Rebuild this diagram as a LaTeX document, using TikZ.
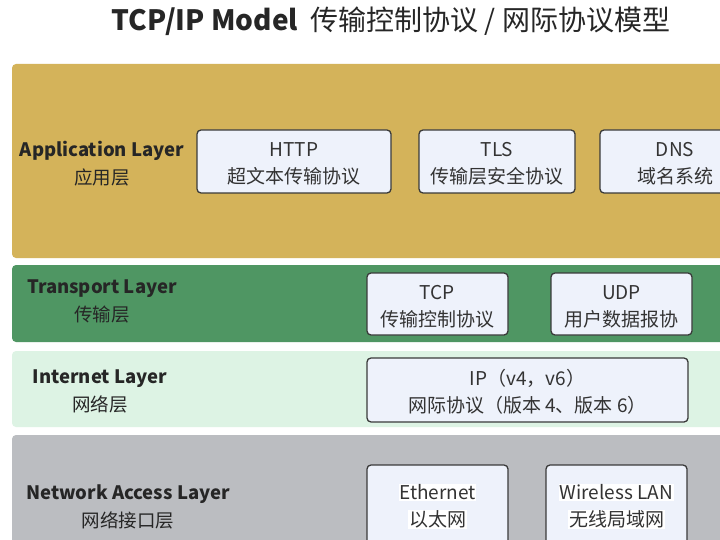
\documentclass[tikz,border=0pt]{standalone}
\usepackage{fontspec}
\setmainfont{Noto Sans CJK SC}
\definecolor{appcol}{HTML}{D4B35A}
\definecolor{tracol}{HTML}{4F9663}
\definecolor{intcol}{HTML}{DDF3E4}
\definecolor{netcol}{HTML}{BBBDC1}
\definecolor{boxfill}{HTML}{EEF2FB}
\definecolor{boxline}{HTML}{3A3A3A}
\definecolor{txtcol}{HTML}{333333}
\newcommand\whl[1]{{\setlength\fboxsep{0.6pt}\colorbox{white}{#1}}}
\tikzset{
  band/.style={rounded corners=4pt},
  protobox/.style={draw=boxline, fill=boxfill, line width=1.3pt, rounded corners=4pt,
    inner sep=0pt},
  prototext/.style={inner sep=0pt, align=center, text=txtcol, font=\fontsize{19}{27}\selectfont},
  layerlabel/.style={align=center, inner sep=0pt, text=black!85, font=\fontsize{18.5}{28}\selectfont},
}
\begin{document}
\begin{tikzpicture}[x=1pt,y=-1pt]
\useasboundingbox (0,0) rectangle (720,540);
\clip (0,0) rectangle (720,540);
\fill[white] (0,0) rectangle (720,540);
% title
\node[inner sep=0pt, text=black!85, font=\fontsize{28}{32}\selectfont] (title) at (391,21)
  {\textbf{TCP/IP Model}\ \ 传输控制协议 / 网际协议模型};
% bands
\fill[band, appcol] (12,64) rectangle (760,258);
\fill[band, tracol] (12,265) rectangle (760,342);
\fill[band, intcol] (12,351) rectangle (760,427);
\fill[band, netcol] (12,435) rectangle (760,600);
% layer labels
\node[layerlabel] (lapp) at (102,164) {\textbf{Application Layer}\\应用层};
\node[layerlabel] (ltra) at (102,301.5) {\textbf{Transport Layer}\\传输层};
\node[layerlabel] (lint) at (100,391) {\textbf{Internet Layer}\\网络层};
\node[layerlabel] (lnet) at (128,506.5) {\textbf{Network Access Layer}\\网络接口层};
% application protocols
\node[protobox, minimum width=194pt, minimum height=63pt] (http) at (294,161.5) {};
\node[prototext] (httpt) at ([yshift=-2.5pt]http.center) {HTTP\\超文本传输协议};
\node[protobox, minimum width=156pt, minimum height=63pt] (tls) at (497,161.5) {};
\node[prototext] (tlst) at ([yshift=-2.5pt]tls.center) {TLS\\传输层安全协议};
\node[protobox, minimum width=150pt, minimum height=63pt] (dns) at (675,161.5) {};
\node[prototext] (dnst) at ([yshift=-2.5pt]dns.center) {DNS\\域名系统};
% transport
\node[protobox, minimum width=141pt, minimum height=62pt] (tcp) at (437.5,304) {};
\node[prototext] (tcpt) at ([yshift=-2.5pt]tcp.center) {TCP\\传输控制协议};
\node[protobox, minimum width=141pt, minimum height=62pt] (udp) at (621.5,304) {};
\node[prototext] (udpt) at ([yshift=-2.5pt]udp.center) {UDP\\用户数据报协};
% internet
\node[protobox, minimum width=321pt, minimum height=64pt] (ip) at (527.5,390) {};
\node[prototext] (ipt) at ([yshift=-2pt]ip.center) {IP（v4，v6）\\网际协议（版本 4、版本 6）};
% network access
\node[protobox, minimum width=141pt, minimum height=84pt] (eth) at (437.5,507) {};
\node[prototext] (etht) at ([yshift=0.5pt]eth.center) {\whl{Ethernet}\\\whl{以太网}};
\node[protobox, minimum width=141pt, minimum height=84pt] (wlan) at (616.5,507) {};
\node[prototext] (wlant) at ([yshift=0.5pt]wlan.center) {\whl{Wireless LAN}\\\whl{无线局域网}};
\end{tikzpicture}
\end{document}
